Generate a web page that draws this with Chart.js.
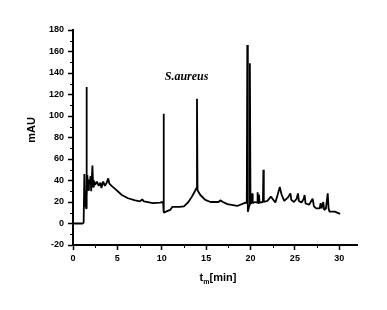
<!DOCTYPE html>
<html>
<head>
<meta charset="utf-8">
<script src="https://cdn.jsdelivr.net/npm/chart.js@4.4.1/dist/chart.umd.min.js"></script>
<style>
  body { margin: 0; background: #fff; }
  #wrap { width: 387px; height: 310px; }
</style>
</head>
<body>
<div id="wrap"><canvas id="chart"></canvas></div>
<script>
// retention time (min) and detector signal (mAU)
const timeMin = [
  0, 1.1, 1.2, 1.28, 1.36, 1.42, 1.48, 1.52, 1.56, 1.62, 1.7, 1.8, 1.9, 1.98, 2.05, 2.19, 2.27, 2.35,
  2.5, 2.7, 2.9, 3.1, 3.2, 3.4, 3.6, 3.8, 3.97, 4.1, 4.35, 4.9, 5.5, 6.2, 7.0, 7.55, 7.8, 8.0,
  9.0, 9.8, 10.15, 10.2, 10.25, 10.6, 10.95, 11.2, 12.0, 12.5, 13.0, 13.4, 13.7, 13.9, 13.97, 14.03,
  14.35, 14.9, 15.5, 16.4, 16.6, 16.9, 17.4, 18.5, 19.45, 19.58, 19.64, 19.7, 19.88, 19.93, 20.0,
  20.1, 20.18, 20.25, 20.5, 20.75, 20.8, 20.86, 20.95, 21.02, 21.4, 21.45, 21.5, 21.9, 22.3, 22.8,
  23.0, 23.3, 23.5, 23.8, 24.2, 24.5, 24.6, 24.9, 25.2, 25.35, 25.45, 25.75, 26.0, 26.1, 26.2, 26.6,
  27.0, 27.15, 27.4, 27.8, 27.9, 28.0, 28.2, 28.3, 28.5, 28.7, 28.8, 28.9, 29.5, 30.1
];
const signalMAU = [
  0, 0, 1, 46, 16, 30, 14, 127, 25, 45, 31, 41, 37, 44, 30, 54, 34, 40,
  36, 39, 35, 38, 33, 39, 35, 38, 42, 37, 35, 31, 26.5, 23.5, 21.5, 20.5, 22.5, 20.5,
  19, 19.5, 20, 102, 10, 11.5, 12.6, 15.5, 15.5, 16, 20, 25, 29.5, 33, 116, 31,
  26.5, 22, 20, 20, 21.5, 20, 18, 16.3, 19.4, 19, 166, 11, 17, 149, 18.6,
  19, 28, 19, 20, 19.5, 29, 19, 27, 19.5, 20, 50, 20, 21, 25, 19.5,
  25, 34, 27, 21, 24, 28, 22, 20, 23, 28, 21, 19.5, 23, 26.5, 18.6, 17.5,
  23, 16, 14, 14, 19, 14, 20, 12.6, 14, 28, 14, 11, 11, 9
];

const xTickLabels = [0, 5, 10, 15, 20, 25, 30];
const xMinorTicks = [2.5, 7.5, 12.5, 17.5, 22.5, 27.5];
const yTickLabels = [-20, 0, 20, 40, 60, 80, 100, 120, 140, 160, 180];
const yMinorTicks = [-10, 10, 30, 50, 70, 90, 110, 130, 150, 170];

const tickFont = { family: 'Liberation Sans, Arial, sans-serif', size: 9, weight: 'bold' };

// minor ticks and the axis / sample labels
const decorations = {
  id: 'decorations',
  afterDraw(chart) {
    const { ctx, chartArea, scales: { x, y } } = chart;
    ctx.save();
    ctx.strokeStyle = '#000';
    ctx.lineWidth = 1;
    xMinorTicks.forEach(v => {
      const px = Math.round(x.getPixelForValue(v)) + 0.5;
      ctx.beginPath();
      ctx.moveTo(px, chartArea.bottom);
      ctx.lineTo(px, chartArea.bottom + 3);
      ctx.stroke();
    });
    yMinorTicks.forEach(v => {
      const py = Math.round(y.getPixelForValue(v)) + 0.5;
      ctx.beginPath();
      ctx.moveTo(chartArea.left, py);
      ctx.lineTo(chartArea.left - 3, py);
      ctx.stroke();
    });

    ctx.fillStyle = '#000';
    // y title
    ctx.save();
    ctx.translate(32, 130);
    ctx.rotate(-Math.PI / 2);
    ctx.font = 'bold 11px Liberation Sans, Arial, sans-serif';
    ctx.textAlign = 'center';
    ctx.textBaseline = 'middle';
    ctx.fillText('mAU', 0, 0);
    ctx.restore();

    // x title with subscript
    ctx.textBaseline = 'alphabetic';
    ctx.textAlign = 'left';
    const main = 'bold 11px Liberation Sans, Arial, sans-serif';
    const sub = 'bold 7px Liberation Sans, Arial, sans-serif';
    ctx.font = main;
    const wT = ctx.measureText('t').width;
    const wB = ctx.measureText('[min]').width;
    ctx.font = sub;
    const wM = ctx.measureText('m').width;
    let tx = (chartArea.left + chartArea.right) / 2 + 3 - (wT + wM + wB) / 2;
    ctx.font = main;
    ctx.fillText('t', tx, 281);
    tx += wT;
    ctx.font = sub;
    ctx.fillText('m', tx, 284);
    tx += wM;
    ctx.font = main;
    ctx.fillText('[min]', tx, 281);

    // sample name
    ctx.font = 'italic bold 12px Liberation Serif, Times New Roman, serif';
    ctx.textAlign = 'center';
    ctx.textBaseline = 'middle';
    ctx.fillText('S.aureus', x.getPixelForValue(12.8), y.getPixelForValue(136));
    ctx.restore();
  }
};

new Chart(document.getElementById('chart'), {
  type: 'line',
  data: {
    datasets: [{
      data: timeMin.map((t, i) => ({ x: t, y: signalMAU[i] })),
      borderColor: '#000',
      borderWidth: 1.8,
      borderJoinStyle: 'bevel',
      pointRadius: 0,
      tension: 0,
      fill: false
    }]
  },
  options: {
    responsive: true,
    maintainAspectRatio: false,
    animation: false,
    layout: { padding: { top: 30, right: 30, left: 0, bottom: 0 } },
    plugins: { legend: { display: false }, tooltip: { enabled: false } },
    scales: {
      x: {
        type: 'linear',
        min: 0,
        max: 32,
        afterBuildTicks: s => { s.ticks = xTickLabels.map(v => ({ value: v })); },
        afterFit: s => { s.height = 65; },
        border: { display: true, color: '#000', width: 2 },
        grid: { drawOnChartArea: false, drawTicks: true, tickLength: 5, tickColor: '#000', tickWidth: 1.5 },
        ticks: { color: '#000', font: tickFont, padding: 3, maxRotation: 0 }
      },
      y: {
        min: -20,
        max: 180,
        afterBuildTicks: s => { s.ticks = yTickLabels.map(v => ({ value: v })); },
        afterFit: s => { s.width = 73; },
        border: { display: true, color: '#000', width: 2 },
        grid: { drawOnChartArea: false, drawTicks: true, tickLength: 5, tickColor: '#000', tickWidth: 1.5 },
        ticks: { color: '#000', font: tickFont, padding: 4 }
      }
    }
  },
  plugins: [decorations]
});
</script>
</body>
</html>
